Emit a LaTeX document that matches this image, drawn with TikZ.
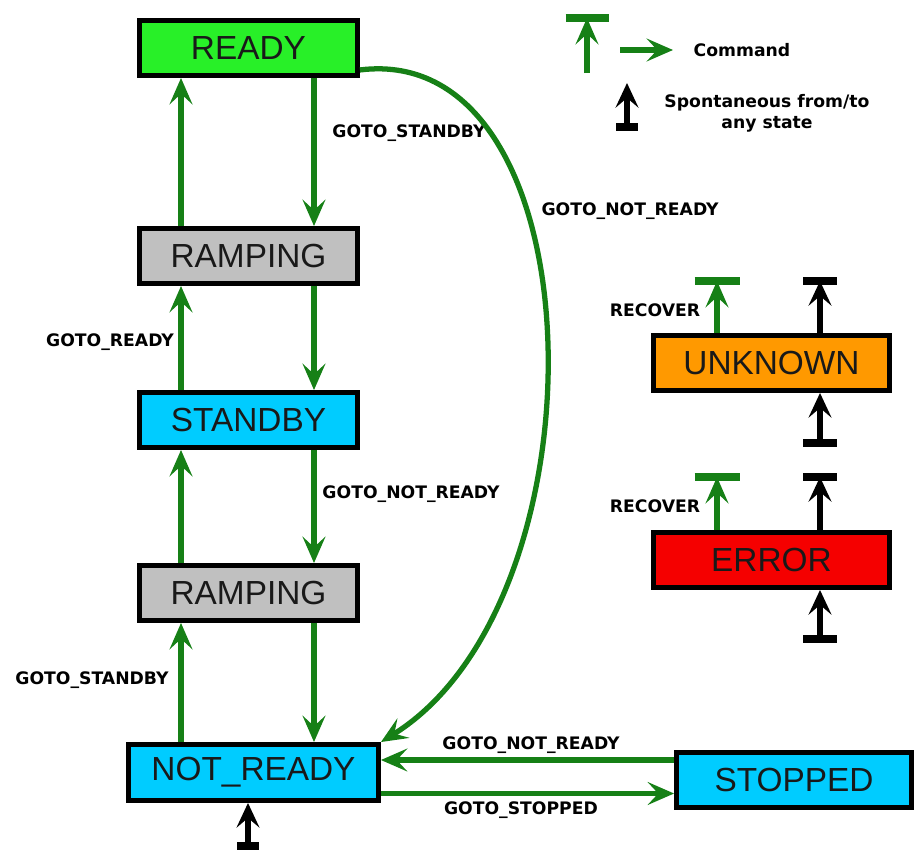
\documentclass[tikz,border=0pt]{standalone}
\usepackage{fontspec}
\setmainfont{Liberation Sans}
\newfontfamily\lblfont{DejaVu Sans}
\usetikzlibrary{arrows.meta}

\definecolor{cmdgreen}{RGB}{22,128,22}
\definecolor{readygreen}{RGB}{40,240,40}
\definecolor{rampgray}{RGB}{192,192,192}
\definecolor{standbycyan}{RGB}{0,204,255}
\definecolor{unkorange}{RGB}{255,153,0}
\definecolor{errred}{RGB}{245,0,0}

\begin{document}
\begin{tikzpicture}[x=0.02cm,y=-0.02cm,
    state/.style={draw=black,line width=2.8pt,minimum width=4.36cm,minimum height=1.1cm,
      inner sep=0pt,text=black!90,font=\fontsize{19}{22}\selectfont},
    lbl/.style={inner sep=0pt,font=\lblfont\bfseries\fontsize{9.8}{11}\selectfont},
    cmd/.style={draw=cmdgreen,line width=3pt,-{Stealth[length=15pt,width=13pt,inset=6pt]}},
    spont/.style={draw=black,line width=3pt,-{Stealth[length=14pt,width=13pt,inset=5.5pt]}},
    cmdbar/.style={draw=cmdgreen,line width=4pt},
    spbar/.style={draw=black,line width=4.2pt}]
    \useasboundingbox (0,0) rectangle (916,852);

    % states
    \node[state,fill=readygreen] (ready) at (248.5,48) {READY};
    \node[state,fill=rampgray] (ramp1) at (248.5,256) {RAMPING};
    \node[state,fill=standbycyan] (standby) at (248.5,420) {STANDBY};
    \node[state,fill=rampgray] (ramp2) at (248.5,593) {RAMPING};
    \node[state,fill=standbycyan,minimum width=5cm,minimum height=1.12cm] (notready) at (253.5,772.5) {NOT\_READY};
    \node[state,fill=standbycyan,minimum width=4.7cm] (stopped) at (794,780) {STOPPED};
    \node[state,fill=unkorange,minimum width=4.72cm] (unknown) at (771.5,363) {UNKNOWN};
    \node[state,fill=errred,minimum width=4.72cm] (error) at (771.5,560) {ERROR};

    % columns of the ladder
    \coordinate (lx) at (181,0);
    \coordinate (rx) at (314,0);

    % ready <-> ramping
    \draw[cmd] (ramp1.north -| lx) -- (ready.south -| lx);
    \draw[cmd] (ready.south -| rx) -- (ramp1.north -| rx);
    \node[lbl] (lbl-standby1) at (409,133) {GOTO\_STANDBY};

    % ramping <-> standby
    \draw[cmd] (standby.north -| lx) -- (ramp1.south -| lx);
    \draw[cmd] (ramp1.south -| rx) -- (standby.north -| rx);
    \node[lbl] (lbl-ready) at (110,342) {GOTO\_READY};

    % standby <-> ramping
    \draw[cmd] (ramp2.north -| lx) -- (standby.south -| lx);
    \draw[cmd] (standby.south -| rx) -- (ramp2.north -| rx);
    \node[lbl] (lbl-notready1) at (411,494) {GOTO\_NOT\_READY};

    % ramping <-> not_ready
    \draw[cmd] (notready.north -| lx) -- (ramp2.south -| lx);
    \draw[cmd] (ramp2.south -| rx) -- (notready.north -| rx);
    \node[lbl] (lbl-standby2) at (92,680) {GOTO\_STANDBY};

    % ready -> not_ready
    \draw[cmd] ([yshift=0.16cm]ready.south east) .. controls (600,40) and (610,600) .. (notready.north east);
    \node[lbl] (lbl-notready2) at (630,211) {GOTO\_NOT\_READY};

    % not_ready <-> stopped
    \draw[cmd] ([yshift=0.4cm]stopped.west) -- ([yshift=0.4cm]stopped.west -| notready.east);
    \node[lbl] (lbl-notready3) at (531,745) {GOTO\_NOT\_READY};
    \draw[cmd] ([yshift=-0.42cm]notready.east) -- ([yshift=-0.42cm]notready.east -| stopped.west);
    \node[lbl] (lbl-stopped) at (521,810) {GOTO\_STOPPED};

    % spontaneous into not_ready
    \coordinate (nr-in) at (248,846);
    \draw[spont] (nr-in) -- (notready.south -| nr-in);
    \draw[spbar] ([xshift=-0.22cm]nr-in) -- ([xshift=0.22cm]nr-in);

    % unknown
    \coordinate (unk-rec) at (717,281);
    \coordinate (unk-out) at (820,281);
    \coordinate (unk-in) at (820,443);
    \draw[cmd] (unknown.north -| unk-rec) -- (unk-rec);
    \draw[cmdbar] ([xshift=-0.45cm]unk-rec) -- ([xshift=0.45cm]unk-rec);
    \node[lbl] (lbl-recover1) at (655,310) {RECOVER};
    \draw[spont] (unknown.north -| unk-out) -- (unk-out);
    \draw[spbar] ([xshift=-0.34cm]unk-out) -- ([xshift=0.34cm]unk-out);
    \draw[spont] (unk-in) -- (unknown.south -| unk-in);
    \draw[spbar] ([xshift=-0.34cm]unk-in) -- ([xshift=0.34cm]unk-in);

    % error
    \coordinate (err-rec) at (717,477);
    \coordinate (err-out) at (820,477);
    \coordinate (err-in) at (820,639);
    \draw[cmd] (error.north -| err-rec) -- (err-rec);
    \draw[cmdbar] ([xshift=-0.45cm]err-rec) -- ([xshift=0.45cm]err-rec);
    \node[lbl] (lbl-recover2) at (655,506) {RECOVER};
    \draw[spont] (error.north -| err-out) -- (err-out);
    \draw[spbar] ([xshift=-0.34cm]err-out) -- ([xshift=0.34cm]err-out);
    \draw[spont] (err-in) -- (error.south -| err-in);
    \draw[spbar] ([xshift=-0.34cm]err-in) -- ([xshift=0.34cm]err-in);

    % legend
    \coordinate (key-cmd) at (587,18);
    \coordinate (key-cmd-from) at (587,73);
    \coordinate (key-arr-from) at (620,50);
    \coordinate (key-arr-to) at (673,50);
    \coordinate (key-sp) at (627,127);
    \coordinate (key-sp-to) at (627,83);
    \draw[cmd] (key-cmd-from) -- (key-cmd);
    \draw[cmdbar] ([xshift=-0.43cm]key-cmd) -- ([xshift=0.43cm]key-cmd);
    \draw[cmd] (key-arr-from) -- (key-arr-to);
    \node[lbl] (key-cmd-txt) at (742,50) {Command};
    \draw[spont] (key-sp) -- (key-sp-to);
    \draw[spbar] ([xshift=-0.22cm]key-sp) -- ([xshift=0.22cm]key-sp);
    \node[lbl,align=center] (key-sp-txt) at (767,113) {Spontaneous from/to\\[1pt]any state};
\end{tikzpicture}
\end{document}
